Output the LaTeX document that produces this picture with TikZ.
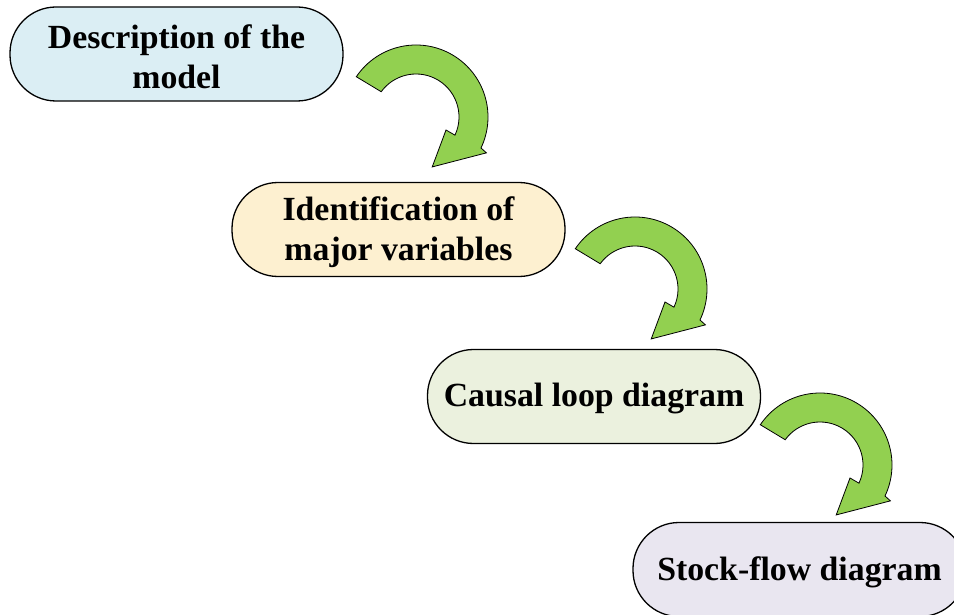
\documentclass[tikz,border=0pt]{standalone}
\usepackage{fontspec}
\setmainfont{Liberation Serif}
\definecolor{cdesc}{HTML}{DBEEF4}
\definecolor{cident}{HTML}{FDF0D0}
\definecolor{ccausal}{HTML}{EBF1DE}
\definecolor{cstock}{HTML}{E9E6F0}
\definecolor{arrowgreen}{HTML}{92D050}
\begin{document}
\begin{tikzpicture}[x=1pt,y=-1pt,
  stage/.style={draw=black, line width=1.3pt, rounded corners=46pt,
    minimum width=333pt, minimum height=94pt, inner sep=0pt},
  stagetext/.style={align=center, inner sep=0pt, yshift=-2.5pt,
    font=\fontsize{33.8}{40}\selectfont\bfseries},
  bendarrow/.style={fill=arrowgreen, draw=black, line width=0.8pt, line join=miter},
  pics/turn/.style={code={
    \path[bendarrow] (146:72pt) arc[start angle=146,end angle=-25.5,radius=72pt]
      -- (-27:79pt) -- (-72:52.5pt) -- (-23.4:32.7pt) -- (-25:43pt)
      arc[start angle=-25,end angle=144,radius=43pt] -- cycle;
  }}]
\useasboundingbox (0,0) rectangle (954,615);
\clip (0,0) rectangle (954,615);
\node[stage, fill=cdesc, label={[stagetext]center:Description of the\\model}] (desc) at (176.5,54) {};
\node[stage, fill=cident, label={[stagetext]center:Identification of\\major variables}] (ident) at (398.5,229.5) {};
\node[stage, fill=ccausal, label={[stagetext]center:Causal loop diagram}] (causal) at (594,396.5) {};
\node[stage, fill=cstock, label={[stagetext]center:Stock-flow diagram}] (stock) at (799.5,569.5) {};
\coordinate (t1) at (416,117);
\coordinate (t2) at (635,289);
\coordinate (t3) at (820,465);
\pic at (t1) {turn};
\pic at (t2) {turn};
\pic at (t3) {turn};
\end{tikzpicture}
\end{document}
